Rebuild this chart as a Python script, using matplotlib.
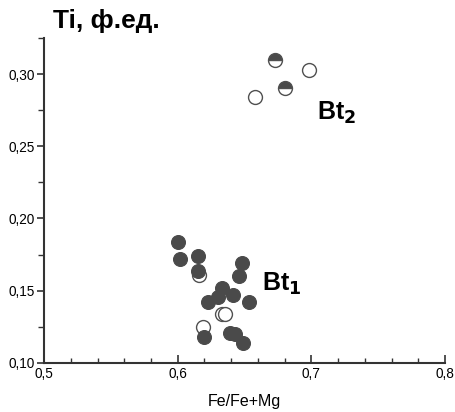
import matplotlib.pyplot as plt
from matplotlib.ticker import MultipleLocator

plt.rcParams["font.family"] = ["Liberation Sans", "DejaVu Sans"]

# Bt1 analyses
bt1_filled_x = [0.600, 0.602, 0.615, 0.615, 0.648, 0.646, 0.633, 0.630, 0.623,
                0.641, 0.653, 0.620, 0.639, 0.643, 0.649]
bt1_filled_y = [0.184, 0.172, 0.174, 0.164, 0.169, 0.160, 0.152, 0.146, 0.142,
                0.147, 0.142, 0.118, 0.121, 0.120, 0.114]
bt1_open_x = [0.616, 0.633, 0.635, 0.619]
bt1_open_y = [0.161, 0.134, 0.134, 0.125]

# Bt2 analyses
bt2_half_x = [0.673, 0.680]
bt2_half_y = [0.310, 0.290]
bt2_open_x = [0.698, 0.658]
bt2_open_y = [0.303, 0.284]

dark = "#4a4a4a"

fig = plt.figure(figsize=(4.55, 4.12), dpi=100)
ax = fig.add_axes([0.097, 0.119, 0.881, 0.789])

ax.plot(bt1_open_x, bt1_open_y, "o", ms=10, mfc="white", mec="#505050", mew=1.0, ls="none")
ax.plot(bt1_filled_x, bt1_filled_y, "o", ms=10, mfc=dark, mec=dark, mew=0.8, ls="none")
ax.plot(bt2_open_x, bt2_open_y, "o", ms=10, mfc="white", mec="#505050", mew=1.0, ls="none")
ax.plot(bt2_half_x, bt2_half_y, "o", ms=10, fillstyle="top", mfc=dark,
        markerfacecoloralt="white", mec="#505050", mew=1.0, ls="none")

ax.set_xlim(0.5, 0.8)
ax.set_ylim(0.10, 0.325)
ax.xaxis.set_major_locator(MultipleLocator(0.1))
ax.xaxis.set_minor_locator(MultipleLocator(0.02))
ax.yaxis.set_major_locator(MultipleLocator(0.05))
ax.yaxis.set_minor_locator(MultipleLocator(0.025))
ax.xaxis.set_major_formatter(lambda v, p: f"{v:.1f}".replace(".", ","))
ax.yaxis.set_major_formatter(lambda v, p: f"{v:.2f}".replace(".", ","))

for side in ("top", "right"):
    ax.spines[side].set_visible(False)
for side in ("left", "bottom"):
    ax.spines[side].set_linewidth(1.5)
    ax.spines[side].set_color("#333333")

ax.tick_params(axis="x", which="major", direction="in", length=6, width=1.2,
               color="#333333", labelsize=9.8, pad=3)
ax.tick_params(axis="x", which="minor", direction="in", length=3.5, width=1.0, color="#333333")
ax.tick_params(axis="y", which="major", direction="out", length=5, width=1.2,
               color="#333333", labelsize=9.8, pad=2)
ax.tick_params(axis="y", which="minor", direction="out", length=4, width=1.0, color="#333333")

ax.set_xlabel("Fe/Fe+Mg", fontsize=11.5, labelpad=9)
fig.text(0.116, 0.950, "Ti, ф.ед.", fontsize=19, fontweight="bold", va="center", ha="left")

ax.text(0.704, 0.268, "Bt$_\\mathbf{2}$", fontsize=18, fontweight="bold")
ax.text(0.663, 0.150, "Bt$_\\mathbf{1}$", fontsize=18, fontweight="bold")

fig.savefig("out.png", dpi=100)
